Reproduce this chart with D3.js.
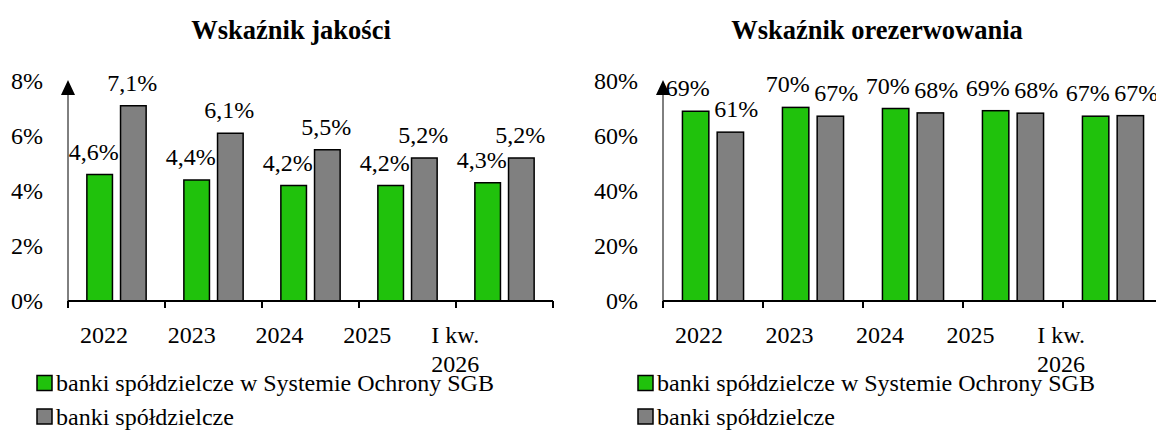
<!DOCTYPE html>
<html>
<head>
<meta charset="utf-8">
<script src="https://cdn.jsdelivr.net/npm/d3@7"></script>
<style>
  html, body { margin: 0; padding: 0; background: #fff; }
  svg { display: block; }
  text { font-family: "Liberation Serif", "Times New Roman", serif; fill: #000; }
</style>
</head>
<body>
<svg id="chart" width="1156" height="435"></svg>
<script>
// kategorie i serie
const categories = [["2022"], ["2023"], ["2024"], ["2025"], ["I kw.", "2026"]];
const seriesNames = ["banki spółdzielcze w Systemie Ochrony SGB", "banki spółdzielcze"];
const jakoscSGB = [4.6, 4.4, 4.2, 4.2, 4.3];
const jakoscAll = [7.1, 6.1, 5.5, 5.2, 5.2];
const rezerwSGB = [69.0, 70.4, 70.0, 69.2, 67.2];
const rezerwAll = [61.4, 67.2, 68.4, 68.3, 67.4];
const jakoscTicks = [0, 2, 4, 6, 8];
const rezerwTicks = [0, 20, 40, 60, 80];

const GREEN = "#20c20c", GREY = "#808080";
const FS = 24;
const svg = d3.select("#chart");

function panel(o) {
  const g = svg.append("g");
  const y = d3.scaleLinear().domain([0, o.max]).range([301, 81]);
  const x = d3.scaleBand().domain(d3.range(categories.length))
    .range([o.x0, o.x0 + o.step * categories.length]);
  const xs = d3.scaleBand().domain([0, 1]).range([0, x.bandwidth()])
    .paddingInner(0.24).paddingOuter(0.56);
  // etykiety osi X przesunięte jak w oryginale
  const xl = d3.scalePoint().domain(d3.range(categories.length))
    .range([o.x0 + 60, o.x0 + 60 + 4 * o.step * 0.905]);

  // tytuł
  g.append("text").attr("x", o.titleX).attr("y", 39).attr("text-anchor", "middle")
    .style("font-weight", "bold").style("font-size", "26.5px").text(o.title);

  // oś Y: linia + strzałka + opisy
  g.append("line").attr("x1", o.x0).attr("x2", o.x0).attr("y1", y(0)).attr("y2", 86)
    .attr("stroke", "#000").attr("stroke-width", 1);
  g.append("path").attr("d", `M${o.x0},80 L${o.x0 - 7},95 L${o.x0 + 7},95 Z`).attr("fill", "#000");
  o.ticks.forEach(t => {
    g.append("text").attr("x", o.x0 - 25).attr("y", y(t) + 8).attr("text-anchor", "end")
      .style("font-size", FS + "px").text(t + "%");
  });

  // słupki
  [o.a, o.b].forEach((vals, si) => {
    vals.forEach((v, i) => {
      const bx = x(i) + xs(si);
      g.append("rect").attr("x", bx).attr("y", y(v))
        .attr("width", xs.bandwidth()).attr("height", y(0) - y(v))
        .attr("fill", si === 0 ? GREEN : GREY).attr("stroke", "#000").attr("stroke-width", 1.5);
      g.append("text").attr("x", bx + xs.bandwidth() / 2 + o.lblDx[si]).attr("y", y(v) - 15)
        .attr("text-anchor", "middle").style("font-size", FS + "px").text(o.fmt(v));
    });
  });

  // oś X
  g.append("line").attr("x1", o.x0).attr("x2", x.range()[1]).attr("y1", 301).attr("y2", 301)
    .attr("stroke", "#000").attr("stroke-width", 2);
  d3.range(categories.length + 1).forEach(i => {
    const tx = o.x0 + i * x.step();
    g.append("line").attr("x1", tx).attr("x2", tx).attr("y1", 301).attr("y2", 308)
      .attr("stroke", "#000").attr("stroke-width", 2);
  });
  categories.forEach((lines, i) => {
    const t = g.append("text").attr("text-anchor", "end").style("font-size", FS + "px");
    lines.forEach((s, li) => {
      t.append("tspan").attr("x", xl(i)).attr("y", 343 + li * 28.5).text(s);
    });
  });

  // legenda
  seriesNames.forEach((n, si) => {
    const cy = 383 + si * 33.5;
    g.append("rect").attr("x", o.legX).attr("y", cy - 7.5).attr("width", 15).attr("height", 15)
      .attr("fill", si === 0 ? GREEN : GREY).attr("stroke", "#000").attr("stroke-width", 1.5);
    g.append("text").attr("x", o.legX + 19).attr("y", cy + 8)
      .style("font-size", FS + "px").text(n);
  });
}

panel({
  title: "Wskaźnik jakości", titleX: 291, x0: 68, step: 97, max: 8, ticks: jakoscTicks,
  a: jakoscSGB, b: jakoscAll, lblDx: [-6, -1], legX: 37,
  fmt: v => d3.format(".1f")(v).replace(".", ",") + "%"
});
panel({
  title: "Wskaźnik orezerwowania", titleX: 877, x0: 663, step: 100, max: 80, ticks: rezerwTicks,
  a: rezerwSGB, b: rezerwAll, lblDx: [-8, 6], legX: 638,
  fmt: v => Math.round(v) + "%"
});
</script>
</body>
</html>
